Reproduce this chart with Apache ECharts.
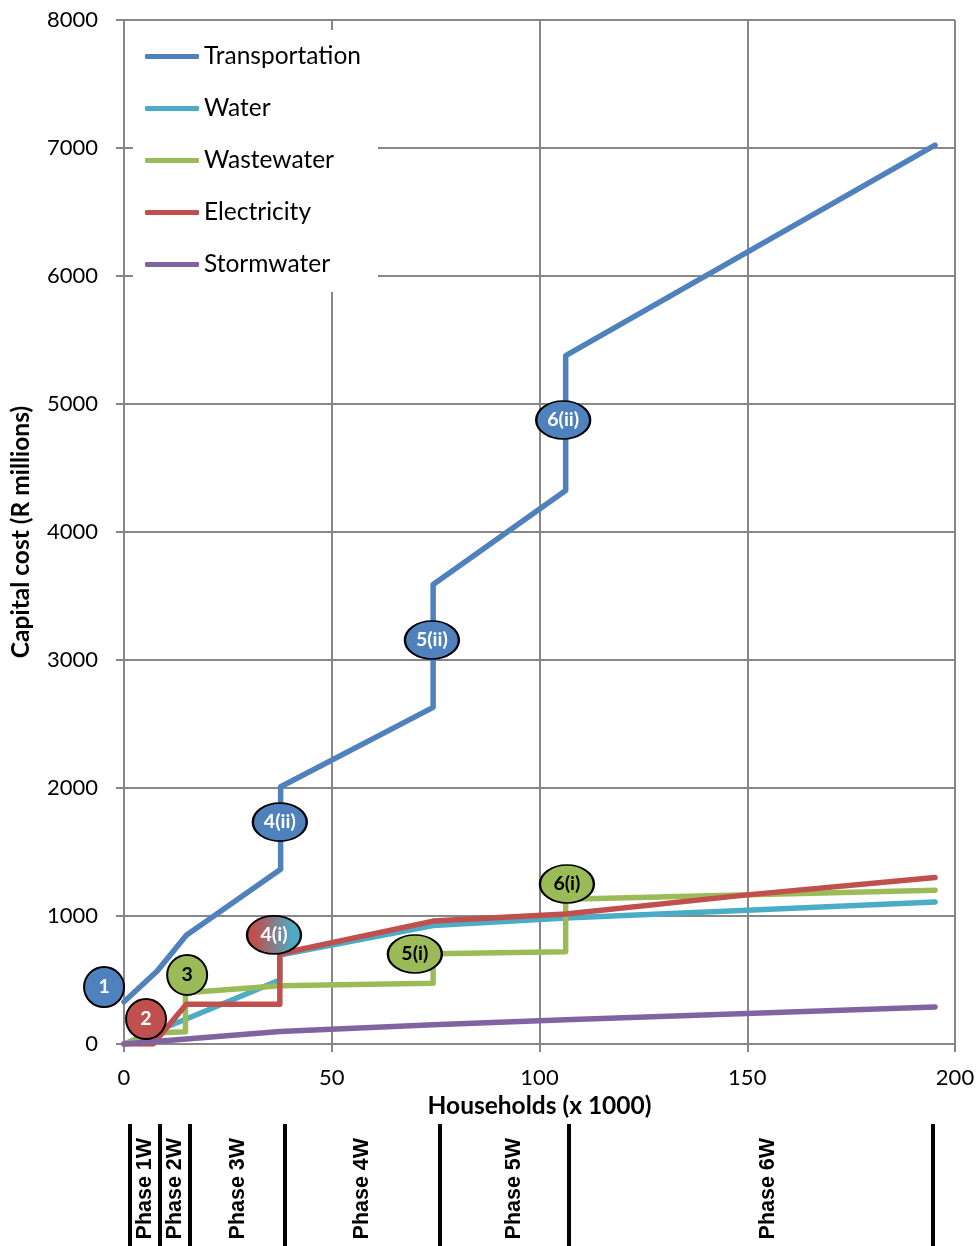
<!DOCTYPE html>
<html>
<head>
<meta charset="utf-8">
<script src="https://cdn.jsdelivr.net/npm/echarts@6/dist/echarts.min.js"></script>
<style>
  html, body { margin: 0; padding: 0; background: #fff; }
  #chart { width: 980px; height: 1246px; }
</style>
</head>
<body>
<div id="chart"></div>
<script>
// ---------- data ----------
const seriesNames = ['Transportation', 'Water', 'Wastewater', 'Electricity', 'Stormwater'];
const transportation = [[0,330],[8,570],[15,850],[37.7,1365],[37.7,2010],[74.4,2630],[74.4,3590],[106.3,4325],[106.3,5378],[195.2,7023]];
const water = [[0,0],[15,195],[37.5,500],[37.5,695],[74.4,925],[106.3,985],[150,1045],[195.2,1110]];
const wastewater = [[0,0],[7,85],[14.8,95],[14.8,400],[37.5,455],[74.4,475],[74.4,705],[106.3,720],[106.3,1130],[195.2,1202]];
const electricity = [[0,0],[7,0],[15,310],[37.5,310],[37.5,705],[74.4,960],[106.3,1015],[150,1165],[195.2,1300]];
const stormwater = [[0,0],[37.5,98],[74.4,150],[106.3,190],[195.2,290]];

const markerLabels = ['1', '2', '3', '4(i)', '4(ii)', '5(i)', '5(ii)', '6(i)', '6(ii)'];
const markerX = [-4.8, 5.3, 15.2, 36.1, 37.5, 70.0, 74.1, 106.6, 105.7];
const markerY = [445, 195, 539, 852, 1734, 703, 3156, 1250, 4875];
const markerKind = ['T', 'E', 'WW', 'EW', 'T', 'WW', 'T', 'WW', 'T'];

const phaseLabels = ['Phase 1W', 'Phase 2W', 'Phase 3W', 'Phase 4W', 'Phase 5W', 'Phase 6W'];
const phaseCenters = [5.1, 12.3, 27.4, 57.3, 93.9, 155.0];
const phaseBounds = [1.5, 8.7, 15.9, 38.8, 76.1, 107.1, 194.7];

const xMin = 0, xMax = 200, xInterval = 50;
const yMin = 0, yMax = 8000, yInterval = 1000;

// ---------- styling ----------
const colors = {
  T: '#4F81BD', W: '#4BACC6', WW: '#9BBB59', E: '#C0504D', S: '#8064A2'
};
const seriesColors = [colors.T, colors.W, colors.WW, colors.E, colors.S];
const seriesData = [transportation, water, wastewater, electricity, stormwater];
const gridGray = '#878787';
const FONT = 'Lato';

const chart = echarts.init(document.getElementById('chart'), null, { renderer: 'canvas' });

const lineSeries = seriesNames.map((name, i) => ({
  name: name,
  type: 'line',
  xAxisIndex: 0, yAxisIndex: 0,
  data: seriesData[i],
  showSymbol: false,
  symbol: 'none',
  color: seriesColors[i],
  lineStyle: { color: seriesColors[i], width: 5.5, cap: 'round', join: 'round' },
  z: 3 + i * 0.1,
  silent: true,
  animation: false
}));

function markerColor(kind) {
  if (kind === 'EW') {
    return new echarts.graphic.LinearGradient(0, 0, 1, 0, [
      { offset: 0.15, color: colors.E },
      { offset: 0.85, color: colors.W }
    ]);
  }
  return colors[kind];
}

const markerData = markerLabels.map((lab, i) => {
  const wide = lab.length > 1;
  return {
    value: [markerX[i], markerY[i]],
    symbolSize: wide ? [54, 38] : [40, 40],
    itemStyle: { color: markerColor(markerKind[i]), borderColor: '#000', borderWidth: 2, opacity: 1 },
    label: {
      show: true, position: 'inside', formatter: lab,
      color: markerKind[i] === 'WW' ? '#000' : '#fff',
      fontFamily: FONT, fontWeight: 'bold', fontSize: 19.5
    }
  };
});

const option = {
  backgroundColor: '#fff',
  animation: false,
  grid: [
    { left: 124, right: 25, top: 20, bottom: 202, containLabel: false },
    { left: 124, right: 25, top: 1124, bottom: 0, containLabel: false }
  ],
  legend: {
    data: seriesNames,
    orient: 'vertical',
    left: 133, top: 30,
    padding: [14, 17, 15, 12],
    backgroundColor: '#fff',
    itemWidth: 54, itemHeight: 5,
    itemGap: 27,
    icon: 'roundRect',
    textStyle: { fontFamily: FONT, fontSize: 24.5, color: '#000', padding: [0, 0, 0, 0] },
    selectedMode: false,
    z: 10
  },
  xAxis: [
    {
      type: 'value', gridIndex: 0, min: xMin, max: xMax, interval: xInterval,
      name: 'Households (x 1000)', nameLocation: 'middle', nameGap: 49,
      nameTextStyle: { fontFamily: FONT, fontWeight: 'bold', fontSize: 24.5, color: '#000' },
      axisLine: { show: true, lineStyle: { color: gridGray, width: 2 } },
      axisTick: { show: true, length: 8, lineStyle: { color: gridGray, width: 2 } },
      axisLabel: { fontFamily: FONT, fontSize: 22, color: '#000', margin: 23,
        formatter: v => String(v) },
      splitLine: { show: true, lineStyle: { color: gridGray, width: 2 } }
    },
    {
      type: 'value', gridIndex: 1, min: xMin, max: xMax, show: false
    }
  ],
  yAxis: [
    {
      type: 'value', gridIndex: 0, min: yMin, max: yMax, interval: yInterval,
      name: 'Capital cost (R millions)', nameLocation: 'middle', nameGap: 90, nameRotate: 90,
      nameTextStyle: { fontFamily: FONT, fontWeight: 'bold', fontSize: 24.5, color: '#000' },
      axisLine: { show: true, lineStyle: { color: gridGray, width: 2 } },
      axisTick: { show: true, length: 8, lineStyle: { color: gridGray, width: 2 } },
      axisLabel: { fontFamily: FONT, fontSize: 22, color: '#000', margin: 26,
        formatter: v => String(v) },
      splitLine: { show: true, lineStyle: { color: gridGray, width: 2 } }
    },
    {
      type: 'value', gridIndex: 1, min: 0, max: 1, show: false
    }
  ],
  series: lineSeries.concat([
    {
      name: 'markers',
      type: 'scatter',
      xAxisIndex: 0, yAxisIndex: 0,
      symbol: 'circle',
      clip: false,
      itemStyle: { opacity: 1 },
      data: markerData,
      z: 8,
      silent: true
    },
    {
      name: 'phases',
      type: 'scatter',
      xAxisIndex: 1, yAxisIndex: 1,
      symbolSize: 1,
      clip: false,
      itemStyle: { color: 'rgba(0,0,0,0)', opacity: 1 },
      label: {
        show: true, position: 'inside', rotate: 90,
        fontFamily: 'Liberation Sans', fontWeight: 'bold', fontSize: 21.5, color: '#000'
      },
      data: phaseCenters.map((c, i) => ({
        value: [c, 0.47],
        label: { formatter: phaseLabels[i] }
      })),
      markLine: {
        silent: true,
        symbol: ['none', 'none'],
        label: { show: false },
        lineStyle: { color: '#000', width: 4, type: 'solid', opacity: 1 },
        data: phaseBounds.map(b => ({ xAxis: b }))
      },
      silent: true
    }
  ])
};

chart.setOption(option);
</script>
</body>
</html>
